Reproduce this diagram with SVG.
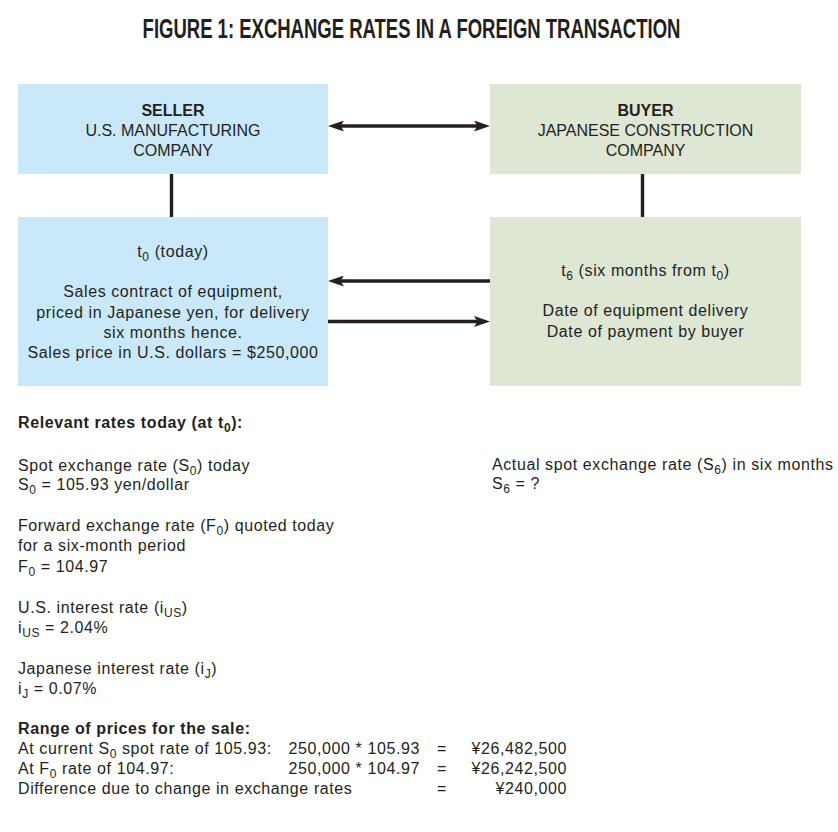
<svg xmlns="http://www.w3.org/2000/svg" width="838" height="832" viewBox="0 0 838 832">
<style>
  text { font-family: "Liberation Sans", Arial, sans-serif; font-size: 16px; letter-spacing: 0.6px; fill: #231f20; }
  .title { font-family: "Liberation Sans", Arial, sans-serif; font-size: 28px; font-weight: bold; letter-spacing: 0; }
  .caps { letter-spacing: 0; }
  .b { font-weight: bold; }
  .c { text-anchor: middle; }
  .e { text-anchor: end; }
  .sub { font-size: 12px; }
  .seller { fill: #c9e9fa; }
  .buyer { fill: #dee6d4; }
  .conn { stroke: #231f20; stroke-width: 3.4; fill: none; }
</style>
<defs>
  <marker id="ah" markerUnits="userSpaceOnUse" markerWidth="16" markerHeight="11" refX="10" refY="5.5" orient="auto-start-reverse">
    <path d="M0,0 L16,5.5 L0,11 L3.5,5.5 Z" fill="#231f20"/>
  </marker>
</defs>
<rect width="838" height="832" fill="#ffffff"/>

<text class="title c" transform="translate(411.5,38) scale(0.661,1)" x="0" y="0">FIGURE 1: EXCHANGE RATES IN A FOREIGN TRANSACTION</text>

<g id="seller">
  <rect class="seller" x="18" y="84" width="310" height="90"/>
  <text class="c b caps" x="173" y="116">SELLER</text>
  <text class="c caps" x="173" y="136">U.S. MANUFACTURING</text>
  <text class="c caps" x="173" y="156">COMPANY</text>
</g>

<g id="buyer">
  <rect class="buyer" x="490" y="84" width="311" height="90"/>
  <text class="c b caps" x="645.5" y="116">BUYER</text>
  <text class="c caps" x="645.5" y="136">JAPANESE CONSTRUCTION</text>
  <text class="c caps" x="645.5" y="156">COMPANY</text>
</g>

<g id="seller-t0">
  <rect class="seller" x="18" y="217" width="310" height="169"/>
  <text class="c" x="173" y="257">t<tspan class="sub" dy="4">0</tspan><tspan dy="-4"> (today)</tspan></text>
  <text class="c" x="173" y="297">Sales contract of equipment,</text>
  <text class="c" x="173" y="317.5">priced in Japanese yen, for delivery</text>
  <text class="c" x="173" y="338">six months hence.</text>
  <text class="c" x="173" y="358">Sales price in U.S. dollars = $250,000</text>
</g>

<g id="buyer-t6">
  <rect class="buyer" x="490" y="217" width="311" height="169"/>
  <text class="c" x="645.5" y="276">t<tspan class="sub" dy="4">6</tspan><tspan dy="-4"> (six months from t</tspan><tspan class="sub" dy="4">0</tspan><tspan dy="-4">)</tspan></text>
  <text class="c" x="645.5" y="316">Date of equipment delivery</text>
  <text class="c" x="645.5" y="337">Date of payment by buyer</text>
</g>

<g id="connectors">
  <path class="conn" d="M334,126 L484,126" marker-start="url(#ah)" marker-end="url(#ah)"/>
  <path class="conn" d="M171.5,174 L171.5,217"/>
  <path class="conn" d="M642.5,174 L642.5,217"/>
  <path class="conn" d="M490,281 L334,281" marker-end="url(#ah)"/>
  <path class="conn" d="M328,321.5 L484,321.5" marker-end="url(#ah)"/>
</g>

<g id="rates">
  <text class="b" x="18" y="428">Relevant rates today (at t<tspan class="sub" dy="4">0</tspan><tspan dy="-4">):</tspan></text>
  <text x="18" y="471">Spot exchange rate (S<tspan class="sub" dy="4">0</tspan><tspan dy="-4">) today</tspan></text>
  <text x="18" y="490">S<tspan class="sub" dy="4">0</tspan><tspan dy="-4"> = 105.93 yen/dollar</tspan></text>
  <text x="18" y="531">Forward exchange rate (F<tspan class="sub" dy="4">0</tspan><tspan dy="-4">) quoted today</tspan></text>
  <text x="18" y="551">for a six-month period</text>
  <text x="18" y="572">F<tspan class="sub" dy="4">0</tspan><tspan dy="-4"> = 104.97</tspan></text>
  <text x="18" y="613">U.S. interest rate (i<tspan class="sub" dy="4">US</tspan><tspan dy="-4">)</tspan></text>
  <text x="18" y="633">i<tspan class="sub" dy="4">US</tspan><tspan dy="-4"> = 2.04%</tspan></text>
  <text x="18" y="674">Japanese interest rate (i<tspan class="sub" dy="4">J</tspan><tspan dy="-4">)</tspan></text>
  <text x="18" y="694">i<tspan class="sub" dy="4">J</tspan><tspan dy="-4"> = 0.07%</tspan></text>

  <text x="492" y="470">Actual spot exchange rate (S<tspan class="sub" dy="4">6</tspan><tspan dy="-4">) in six months</tspan></text>
  <text x="492" y="489">S<tspan class="sub" dy="4">6</tspan><tspan dy="-4"> = ?</tspan></text>
</g>

<g id="prices">
  <text class="b" x="18" y="734">Range of prices for the sale:</text>
  <text x="18" y="754">At current S<tspan class="sub" dy="4">0</tspan><tspan dy="-4"> spot rate of 105.93:</tspan></text>
  <text x="18" y="774">At F<tspan class="sub" dy="4">0</tspan><tspan dy="-4"> rate of 104.97:</tspan></text>
  <text x="18" y="794">Difference due to change in exchange rates</text>
  <text class="e" x="420" y="754">250,000 * 105.93</text>
  <text class="e" x="420" y="774">250,000 * 104.97</text>
  <text class="c" x="442" y="754">=</text>
  <text class="c" x="442" y="774">=</text>
  <text class="c" x="442" y="794">=</text>
  <text class="e" x="567" y="754">¥26,482,500</text>
  <text class="e" x="567" y="774">¥26,242,500</text>
  <text class="e" x="567" y="794">¥240,000</text>
</g>
</svg>
